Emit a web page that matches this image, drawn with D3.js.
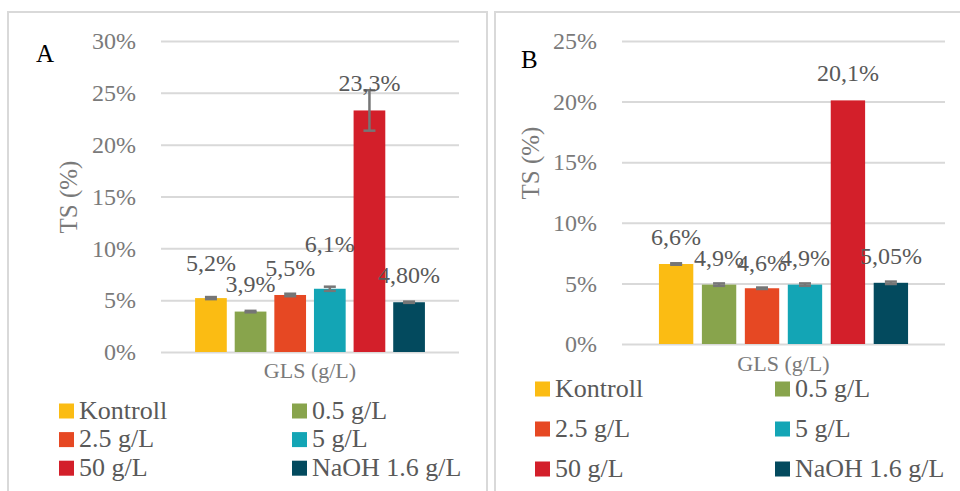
<!DOCTYPE html>
<html>
<head>
<meta charset="utf-8">
<script src="https://cdn.jsdelivr.net/npm/d3@7"></script>
<style>
  html, body { margin: 0; padding: 0; background: #fff; }
  svg { display: block; font-family: "Liberation Serif", "Times New Roman", serif; }
</style>
</head>
<body>
<svg id="chart" width="960" height="491"></svg>
<script>
// Treatment groups (shared by both panels)
const categories = ["Kontroll", "0.5 g/L", "2.5 g/L", "5 g/L", "50 g/L", "NaOH 1.6 g/L"];
const colors = ["#FBBC13", "#88A44C", "#E64823", "#13A5B5", "#D31F2A", "#034A5E"];

// Panel A: total solids (%) with standard deviation
const valuesA = [5.2, 3.9, 5.5, 6.1, 23.3, 4.8];
const errorsA = [0.1, 0.07, 0.12, 0.2, 1.95, 0.06];
const labelsA = ["5,2%", "3,9%", "5,5%", "6,1%", "23,3%", "4,80%"];
const ticksA = [0, 5, 10, 15, 20, 25, 30];

// Panel B: total solids (%) with standard deviation
const valuesB = [6.6, 4.9, 4.6, 4.9, 20.1, 5.05];
const errorsB = [0.06, 0.1, 0.06, 0.1, 0, 0.1];
const labelsB = ["6,6%", "4,9%", "4,6%", "4,9%", "20,1%", "5,05%"];
const ticksB = [0, 5, 10, 15, 20, 25];

// Extra upward lift (px) for labels that sit higher than the default
const liftA = [8, 1, 0, 18, 0, 0];
const liftB = [0, 0, -2, 0, 0, 0];

const svg = d3.select("#chart");
const GRID = "#d9d9d9";
const TEXT = "#595959";
const TICK = "#7a7a7a";

function panel(cfg) {
  const g = svg.append("g");

  // frame
  g.append("rect")
    .attr("x", cfg.frame[0]).attr("y", cfg.frame[1])
    .attr("width", cfg.frame[2]).attr("height", cfg.frame[3])
    .attr("fill", "#fff").attr("stroke", "#d9d9d9").attr("stroke-width", 2);

  const y = d3.scaleLinear().domain([0, d3.max(cfg.ticks)]).range([cfg.y0, cfg.yTop]);
  const x = d3.scaleBand().domain(categories).range([cfg.x0, cfg.x1])
    .paddingInner(0.2).paddingOuter(0.86);

  // gridlines + tick labels via axis
  const axis = d3.axisLeft(y).tickValues(cfg.ticks)
    .tickSize(-(cfg.x1 - cfg.x0)).tickPadding(cfg.x0 - cfg.labelRight)
    .tickFormat(d => d + "%");
  const ag = g.append("g").attr("transform", `translate(${cfg.x0},0)`).call(axis);
  ag.select(".domain").remove();
  ag.selectAll(".tick line").attr("stroke", GRID).attr("stroke-width", 2);
  ag.selectAll(".tick text").attr("fill", TICK).attr("font-size", 24)
    .attr("font-family", "Liberation Serif, serif").attr("dy", "0.32em");

  // bars
  g.selectAll("rect.bar").data(cfg.values).join("rect")
    .attr("class", "bar")
    .attr("x", (d, i) => x(categories[i]))
    .attr("width", x.bandwidth())
    .attr("y", d => y(d))
    .attr("height", d => y(0) - y(d))
    .attr("fill", (d, i) => colors[i]);

  // error bars
  const cap = 6;
  const eg = g.append("g").attr("stroke", "#767676").attr("stroke-width", 2.5);
  cfg.values.forEach((v, i) => {
    const e = cfg.errors[i];
    if (!e) return;
    const cx = x(categories[i]) + x.bandwidth() / 2;
    eg.append("line").attr("x1", cx).attr("x2", cx).attr("y1", y(v - e)).attr("y2", y(v + e));
    eg.append("line").attr("x1", cx - cap).attr("x2", cx + cap).attr("y1", y(v + e)).attr("y2", y(v + e));
    eg.append("line").attr("x1", cx - cap).attr("x2", cx + cap).attr("y1", y(v - e)).attr("y2", y(v - e));
  });

  // value labels
  g.selectAll("text.val").data(cfg.values).join("text")
    .attr("class", "val")
    .attr("x", (d, i) => x(categories[i]) + x.bandwidth() / 2)
    .attr("y", (d, i) => y(d) - 19 - cfg.lift[i])
    .attr("text-anchor", "middle")
    .attr("font-size", 24).attr("fill", TEXT)
    .text((d, i) => cfg.labels[i]);

  // axis titles
  g.append("text")
    .attr("transform", `translate(${cfg.yTitle[0]},${cfg.yTitle[1]}) rotate(-90)`)
    .attr("text-anchor", "middle").attr("dy", "0.35em")
    .attr("font-size", 25).attr("fill", TICK).text("TS (%)");
  g.append("text")
    .attr("x", (cfg.x0 + cfg.x1) / 2).attr("y", cfg.xTitleY)
    .attr("text-anchor", "middle")
    .attr("font-size", 22).attr("fill", TICK).text("GLS (g/L)");

  // panel letter
  g.append("text").attr("x", cfg.letter[0]).attr("y", cfg.letter[1])
    .attr("font-size", 25).attr("fill", "#000").text(cfg.name);

  // legend: 2 columns x 3 rows
  const lg = g.append("g");
  categories.forEach((c, i) => {
    const col = i % 2, row = Math.floor(i / 2);
    const lx = cfg.legend.x[col];
    const ly = cfg.legend.y0 + row * cfg.legend.dy;
    lg.append("rect").attr("x", lx).attr("y", ly - 7.5).attr("width", 15).attr("height", 15)
      .attr("fill", colors[i]);
    lg.append("text").attr("x", lx + 20).attr("y", ly + 7.5)
      .attr("font-size", 26).attr("fill", TEXT).text(c);
  });
}

panel({
  name: "A",
  frame: [8, 12, 479, 500],
  x0: 161, x1: 459, y0: 352, yTop: 41, labelRight: 136,
  ticks: ticksA, values: valuesA, errors: errorsA, labels: labelsA, lift: liftA,
  yTitle: [68, 197], xTitleY: 378, letter: [36, 62],
  legend: { x: [59, 292], y0: 411, dy: 28.6 }
});

panel({
  name: "B",
  frame: [495, 12, 480, 500],
  x0: 622, x1: 945, y0: 344, yTop: 41, labelRight: 597,
  ticks: ticksB, values: valuesB, errors: errorsB, labels: labelsB, lift: liftB,
  yTitle: [530, 163], xTitleY: 371, letter: [521, 68],
  legend: { x: [535, 775], y0: 389, dy: 40 }
});
</script>
</body>
</html>
